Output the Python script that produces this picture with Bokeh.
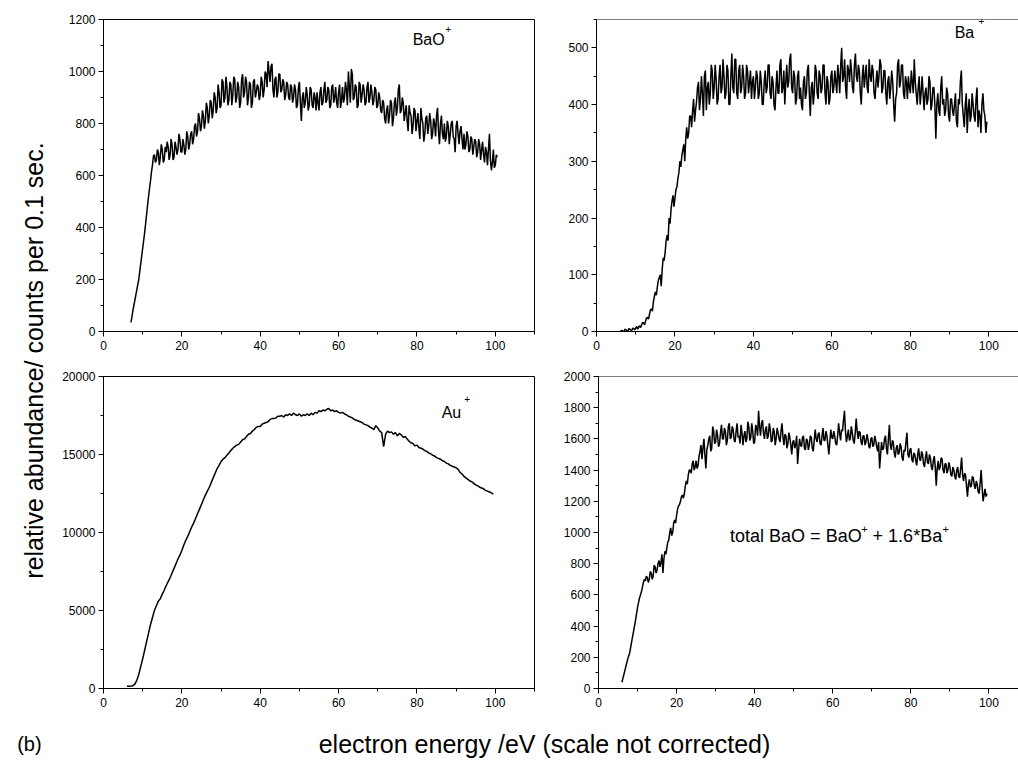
import math
from bokeh.plotting import figure
from bokeh.layouts import row, column
from bokeh.models import Range1d, SingleIntervalTicker, Label, Span
from bokeh.embed import file_html
from bokeh.resources import INLINE

FONT = "Liberation Sans"

# ---------------- data ----------------
# BaO+ : 7.0 .. 100.5 eV, 0.25 eV per sample
bao_start, bao_step = 7.0, 0.25
bao_counts = [
    35, 55, 80, 100, 120, 140, 160, 180, 200, 230, 260, 290, 320, 350, 380, 415, 450, 485, 520, 550,
    580, 615, 640, 675, 680, 650, 660, 700, 690, 640, 670, 720, 700, 650, 660, 710, 690, 730, 710, 660,
    680, 740, 720, 660, 670, 730, 710, 680, 700, 760, 740, 690, 690, 740, 720, 680, 700, 770, 750, 700,
    720, 760, 770, 720, 740, 790, 800, 750, 770, 840, 820, 770, 790, 850, 830, 780, 810, 880, 860, 800,
    830, 890, 880, 820, 850, 920, 900, 840, 860, 950, 920, 860, 870, 970, 960, 880, 900, 980, 940, 870,
    890, 960, 950, 870, 910, 980, 970, 880, 900, 960, 940, 860, 880, 970, 990, 900, 920, 980, 960, 870,
    900, 960, 950, 860, 880, 960, 970, 900, 920, 950, 940, 890, 910, 980, 960, 900, 930, 1000, 990, 940,
    1040, 1000, 960, 1020, 1030, 930, 900, 970, 980, 900, 920, 990, 990, 920, 930, 970, 960, 890, 910, 960,
    950, 900, 890, 950, 940, 880, 900, 950, 930, 860, 870, 940, 960, 880, 810, 900, 920, 860, 880, 940,
    910, 850, 870, 940, 930, 870, 860, 920, 900, 850, 920, 880, 850, 920, 940, 870, 880, 930, 960, 880,
    890, 940, 930, 860, 870, 940, 950, 880, 900, 940, 880, 860, 920, 950, 860, 890, 940, 880, 900, 960,
    930, 870, 1000, 940, 880, 1010, 990, 890, 900, 950, 940, 860, 870, 960, 950, 880, 910, 950, 930, 870,
    880, 940, 960, 880, 900, 950, 920, 870, 890, 940, 930, 860, 870, 920, 900, 850, 840, 890, 880, 820,
    800, 850, 870, 800, 830, 890, 880, 790, 820, 880, 900, 830, 860, 930, 950, 840, 850, 900, 880, 810,
    840, 870, 810, 770, 870, 840, 830, 760, 790, 860, 850, 770, 810, 840, 780, 740, 860, 820, 800, 730,
    760, 820, 830, 760, 790, 840, 810, 740, 760, 820, 800, 750, 830, 860, 770, 720, 800, 830, 760, 740,
    800, 730, 750, 810, 790, 720, 760, 800, 810, 750, 740, 690, 790, 810, 760, 720, 770, 790, 740, 700,
    760, 700, 720, 770, 750, 690, 700, 750, 740, 680, 710, 740, 730, 670, 690, 740, 720, 660, 700, 730,
    680, 650, 710, 690, 640, 700, 760, 660, 620, 650, 700, 630, 640, 680, 670,
]

# Ba+ : 6.0 .. 99.5 eV, 0.25 eV per sample
ba_start, ba_step = 6.0, 0.25
ba_counts = [
    0, 1, 2, 0, 0, 4, 3, 1, 1, 5, 4, 2, 2, 6, 5, 3, 6, 9, 4, 8,
    10, 7, 12, 16, 15, 12, 18, 24, 25, 22, 30, 38, 40, 36, 52, 62, 70, 64, 78, 90,
    95, 100, 80, 110, 130, 125, 140, 160, 170, 160, 200, 190, 215, 230, 240, 220, 235, 250, 255, 270,
    280, 300, 290, 310, 320, 330, 300, 340, 360, 340, 350, 380, 380, 360, 390, 410, 370, 390, 405, 430,
    440, 390, 410, 450, 420, 380, 450, 460, 390, 430, 440, 400, 420, 470, 460, 410, 430, 470, 445, 400,
    410, 450, 470, 420, 430, 480, 450, 410, 420, 470, 460, 400, 400, 450, 490, 430, 420, 480, 480, 420,
    410, 460, 470, 420, 430, 470, 450, 410, 420, 470, 460, 420, 440, 460, 410, 440, 450, 410, 430, 460,
    450, 410, 420, 460, 440, 400, 400, 440, 460, 420, 430, 470, 470, 420, 410, 450, 440, 400, 390, 430,
    460, 420, 420, 470, 480, 420, 430, 460, 400, 440, 470, 430, 440, 480, 490, 430, 420, 460, 450, 400,
    410, 450, 460, 410, 430, 400, 390, 440, 450, 410, 420, 460, 470, 420, 380, 430, 440, 400, 420, 470,
    460, 420, 410, 460, 450, 420, 430, 470, 470, 420, 400, 450, 440, 400, 410, 450, 460, 420, 430, 460,
    440, 420, 470, 450, 420, 470, 500, 440, 450, 480, 430, 410, 470, 460, 440, 480, 460, 430, 420, 470,
    490, 450, 440, 470, 460, 420, 400, 450, 470, 430, 450, 470, 430, 420, 480, 450, 440, 470, 460, 420,
    410, 440, 460, 430, 450, 480, 470, 420, 430, 460, 460, 420, 400, 440, 450, 410, 430, 460, 440, 400,
    370, 410, 420, 470, 480, 430, 440, 470, 470, 420, 410, 450, 440, 410, 450, 430, 420, 460, 440, 420,
    480, 440, 420, 400, 430, 450, 400, 420, 450, 420, 390, 420, 430, 400, 410, 450, 440, 390, 400, 430,
    430, 400, 340, 400, 420, 390, 380, 430, 450, 400, 410, 380, 390, 430, 420, 380, 370, 410, 410, 390,
    380, 400, 420, 370, 360, 410, 400, 440, 460, 400, 380, 360, 400, 420, 350, 390, 410, 370, 380, 420,
    400, 380, 370, 410, 430, 360, 390, 380, 350, 400, 420, 390, 380, 350, 370,
]

# Au+ : 6.0 .. 99.5 eV, 0.5 eV per sample
au_start, au_step = 6.0, 0.5
au_counts = [
    150, 150, 160, 180, 280, 520, 900, 1400, 1900, 2450,
    3000, 3550, 4100, 4550, 5000, 5300, 5600, 5750, 6050, 6300,
    6600, 6850, 7100, 7400, 7700, 8000, 8300, 8550, 8850, 9200,
    9500, 9750, 10050, 10350, 10600, 10900, 11200, 11500, 11800, 12100,
    12400, 12650, 12900, 13200, 13500, 13800, 14100, 14300, 14550, 14700,
    14800, 14950, 15100, 15250, 15400, 15500, 15600, 15650, 15800, 15950,
    16000, 16150, 16300, 16350, 16500, 16600, 16750, 16800, 16800, 16950,
    17000, 17050, 17100, 17250, 17300, 17300, 17350, 17450, 17450, 17500,
    17400, 17550, 17500, 17600, 17500, 17650, 17550, 17500, 17600, 17450,
    17550, 17500, 17600, 17500, 17650, 17550, 17700, 17650, 17800, 17750,
    17850, 17800, 17900, 17950, 17800, 17850, 17750, 17800, 17700, 17650,
    17700, 17600, 17550, 17450, 17400, 17350, 17250, 17200, 17150, 17100,
    17050, 16950, 16900, 16850, 16750, 16700, 16600, 16850, 16700, 16500,
    16400, 15500, 16300, 16500, 16400, 16450, 16300, 16400, 16200, 16350,
    16250, 16100, 16150, 16000, 15850, 15750, 15700, 15550, 15600, 15450,
    15400, 15350, 15250, 15200, 15100, 15050, 14950, 14900, 14800, 14750,
    14700, 14600, 14550, 14450, 14400, 14300, 14250, 14200, 14150, 14050,
    13850, 13750, 13600, 13500, 13400, 13300, 13250, 13150, 13050, 13000,
    12900, 12850, 12800, 12700, 12650, 12600, 12550, 12450,
]

# total BaO = BaO+ + 1.6*Ba+ : 6.0 .. 99.5 eV, 0.25 eV per sample
total_start, total_step = 6.0, 0.25
total_counts = [
    40, 65, 90, 115, 140, 165, 190, 210, 230, 265, 300, 335, 370, 405, 440, 480, 520, 550, 580, 600,
    620, 650, 680, 700, 690, 720, 710, 680, 700, 750, 740, 700, 720, 790, 780, 740, 760, 800, 820, 780,
    810, 860, 740, 830, 880, 860, 900, 940, 950, 1000, 1030, 980, 1000, 1060, 1080, 1060, 1110, 1150, 1170, 1180,
    1200, 1230, 1240, 1220, 1250, 1300, 1330, 1310, 1370, 1400, 1400, 1380, 1440, 1460, 1400, 1420, 1460, 1410, 1430, 1490,
    1520, 1560, 1470, 1540, 1600, 1500, 1410, 1530, 1560, 1600, 1620, 1520, 1540, 1680, 1650, 1570, 1580, 1660, 1620, 1550,
    1570, 1640, 1690, 1600, 1600, 1670, 1650, 1560, 1590, 1680, 1700, 1600, 1610, 1680, 1660, 1590, 1580, 1650, 1700, 1610,
    1620, 1570, 1690, 1640, 1560, 1620, 1650, 1580, 1600, 1710, 1680, 1590, 1610, 1700, 1650, 1570, 1580, 1690, 1670, 1620,
    1780, 1680, 1620, 1700, 1720, 1640, 1600, 1660, 1680, 1600, 1620, 1700, 1660, 1580, 1590, 1670, 1650, 1560, 1600, 1670,
    1640, 1600, 1580, 1650, 1700, 1610, 1560, 1630, 1620, 1540, 1570, 1640, 1610, 1560, 1500, 1580, 1590, 1540, 1560, 1620,
    1440, 1530, 1600, 1560, 1550, 1610, 1620, 1540, 1530, 1600, 1590, 1530, 1560, 1620, 1610, 1540, 1520, 1590, 1660, 1600,
    1580, 1630, 1640, 1570, 1560, 1620, 1670, 1590, 1590, 1650, 1620, 1560, 1500, 1580, 1660, 1610, 1600, 1650, 1620, 1570,
    1560, 1620, 1700, 1640, 1590, 1660, 1650, 1720, 1780, 1650, 1580, 1620, 1660, 1590, 1600, 1680, 1640, 1590, 1570, 1640,
    1730, 1650, 1600, 1650, 1640, 1580, 1560, 1620, 1620, 1560, 1580, 1630, 1600, 1550, 1540, 1600, 1610, 1550, 1560, 1620,
    1590, 1550, 1520, 1580, 1410, 1500, 1580, 1530, 1540, 1600, 1620, 1540, 1500, 1600, 1690, 1560, 1530, 1590, 1580, 1510,
    1480, 1540, 1560, 1500, 1510, 1570, 1550, 1480, 1460, 1530, 1520, 1580, 1640, 1500, 1480, 1530, 1540, 1470, 1450, 1510,
    1500, 1460, 1430, 1500, 1540, 1470, 1460, 1520, 1500, 1440, 1420, 1480, 1520, 1450, 1440, 1500, 1480, 1420, 1400, 1460,
    1490, 1420, 1300, 1410, 1460, 1400, 1420, 1480, 1470, 1400, 1380, 1440, 1440, 1380, 1400, 1450, 1420, 1370, 1360, 1420,
    1400, 1360, 1340, 1400, 1420, 1360, 1350, 1410, 1480, 1370, 1330, 1380, 1370, 1300, 1230, 1310, 1340, 1290, 1300, 1360,
    1350, 1300, 1280, 1330, 1310, 1260, 1250, 1320, 1400, 1290, 1200, 1240, 1280, 1230, 1250,
]

x_major = 20
bao_major, ba_major, au_major, total_major = 200, 100, 5000, 200
bao_ymax, ba_ymax, au_ymax, total_ymax = 1200, 550, 20000, 2000

ylabel_text = "relative abundance/ counts per 0.1 sec."
xlabel_text = "electron energy /eV (scale not corrected)"
panel_tag = "(b)"


def energies(start, step, counts):
    return [start + step * i for i in range(len(counts))]


def panel(width, height, left, right, top, bottom, xmax, ymax, yint, outline):
    p = figure(width=width, height=height,
               x_range=Range1d(0, xmax), y_range=Range1d(0, ymax),
               output_backend="svg", toolbar_location=None,
               min_border_left=left, min_border_right=right,
               min_border_top=top, min_border_bottom=bottom)
    p.xgrid.visible = False
    p.ygrid.visible = False
    p.background_fill_color = "white"
    p.border_fill_color = "white"
    p.xaxis.ticker = SingleIntervalTicker(interval=x_major, num_minor_ticks=2)
    p.yaxis.ticker = SingleIntervalTicker(interval=yint, num_minor_ticks=2)
    for ax in p.axis:
        ax.axis_line_color = "black"
        ax.axis_line_width = 1
        ax.major_tick_line_color = "black"
        ax.minor_tick_line_color = "black"
        ax.major_tick_out = 5
        ax.major_tick_in = 0
        ax.minor_tick_out = 3
        ax.minor_tick_in = 0
        ax.major_label_text_font = FONT
        ax.major_label_text_font_size = "12px"
        ax.major_label_text_color = "black"
    p.xaxis.major_label_standoff = 4
    p.yaxis.major_label_standoff = 3
    if outline:
        p.outline_line_color = "black"
        p.outline_line_width = 1
    else:
        p.outline_line_color = None
        p.add_layout(Span(location=ymax, dimension="width",
                          line_color="black", line_width=1))
    return p


def lab(p, x, y, text, size, **kw):
    p.add_layout(Label(x=x, y=y, text=text, text_font=FONT,
                       text_font_size=size, text_color="black",
                       text_baseline="alphabetic", **kw))


RIGHT_XMAX = 107.57
LW = 1.5

# top-left: BaO+
pA = panel(502, 355, 45, 26, 19, 24, 110, bao_ymax, bao_major, True)
pA.line(energies(bao_start, bao_step, bao_counts), bao_counts, line_color="black", line_width=LW)
lab(pA, 78.9, 1123, "BaO", "16px")
lab(pA, 87.2, 1163, "+", "10px")

# top-right: Ba+
pB = panel(458, 355, 36, 0, 19, 24, RIGHT_XMAX, ba_ymax, ba_major, False)
pB.line(energies(ba_start, ba_step, ba_counts), ba_counts, line_color="black", line_width=LW)
lab(pB, 91.3, 527, "Ba", "16px")
lab(pB, 97.4, 548, "+", "10px")

# bottom-left: Au+
pC = panel(502, 355, 45, 26, 21, 22, 110, au_ymax, au_major, True)
pC.line(energies(au_start, au_step, au_counts), au_counts, line_color="black", line_width=LW)
lab(pC, 86.3, 17675, "Au", "16px")
lab(pC, 92.1, 18585, "+", "10px")

# bottom-right: total BaO
pD = panel(458, 355, 36, 0, 21, 22, RIGHT_XMAX, total_ymax, total_major, False)
pD.line(energies(total_start, total_step, total_counts), total_counts, line_color="black", line_width=LW)
lab(pD, 33.7, 976, "total BaO = BaO", "18px")
lab(pD, 67.3, 1021, "+", "11px")
lab(pD, 70.2, 976, "+ 1.6*Ba", "18px")
lab(pD, 88.1, 1021, "+", "11px")


def blank(width, height):
    p = figure(width=width, height=height,
               x_range=Range1d(0, width), y_range=Range1d(0, height),
               output_backend="svg", toolbar_location=None,
               x_axis_location=None, y_axis_location=None,
               min_border=0, min_border_left=0, min_border_right=0,
               min_border_top=0, min_border_bottom=0)
    p.outline_line_color = None
    p.grid.visible = False
    p.background_fill_color = "white"
    p.border_fill_color = "white"
    return p


# y-axis title column (page x 0..58, full height)
pY = blank(58, 760)
lab(pY, 33.5, 400, ylabel_text, "25px", angle=math.pi / 2, text_align="center")
lab(pY, 16.7, 17, panel_tag, "20px", text_align="left")

# x-axis title row (page y 710..760)
pX = blank(960, 50)
lab(pX, 486, 17, xlabel_text, "25px", text_align="center")

layout = row(pY, column(row(pA, pB), row(pC, pD), pX))

open("out.html", "w").write(file_html(layout, INLINE))
